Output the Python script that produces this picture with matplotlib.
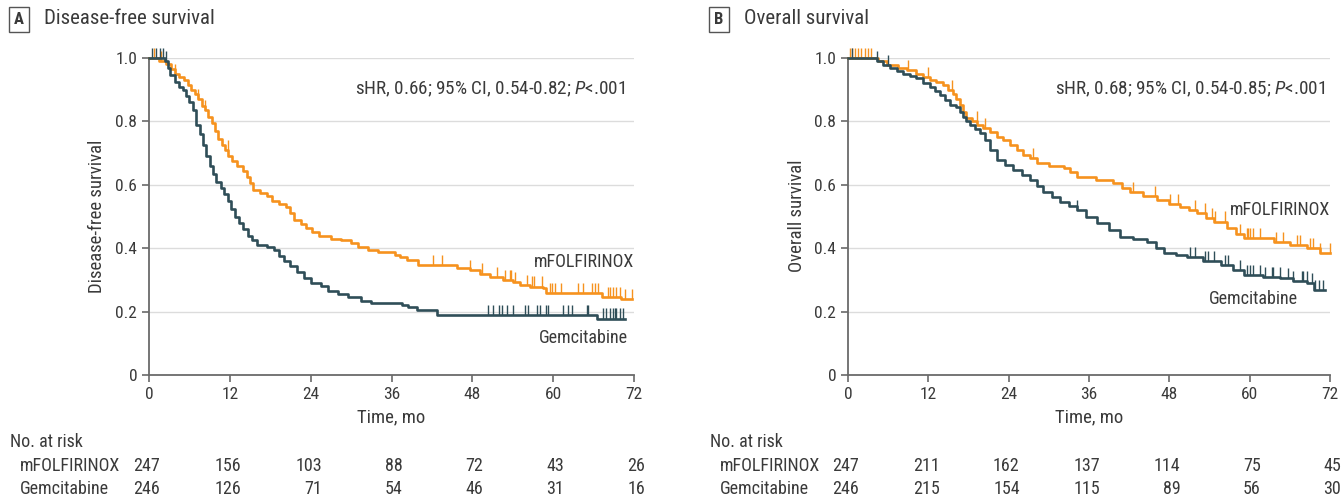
import numpy as np
import matplotlib
matplotlib.use("Agg")
import matplotlib.pyplot as plt
from matplotlib.transforms import blended_transform_factory

plt.rcParams['font.family'] = ['Roboto Condensed', 'DejaVu Sans']
plt.rcParams['mathtext.fontset'] = 'custom'
plt.rcParams['mathtext.it'] = 'Roboto Condensed:italic'
plt.rcParams['mathtext.rm'] = 'Roboto Condensed'

ORANGE = "#F6921E"
TEAL = "#2F4E58"
TXT = "#3a3a3a"

# ---- A: disease-free survival (step knots)
dfs_m_t = [0, 1.5, 2.5, 3.2, 3.8, 4.5, 5.2, 5.8, 6.3, 6.8, 7.3, 7.8, 8.3, 8.8, 9.3, 9.8, 10.3,
           10.8, 11.3, 11.8, 12.3, 13.0, 14.0, 14.5, 15.0, 15.4, 16.5, 17.5, 18.3, 19.3, 20.3,
           21.0, 21.5, 22.5, 23.3, 24.2, 25.3, 27.0, 28.5, 30.0, 31.0, 32.5, 34.0, 36.5, 37.3,
           38.3, 40.0, 45.7, 47.7, 49.1, 50.6, 52.5, 54.0, 55.1, 56.6, 58.5, 59.0, 67.2, 70.0, 71.7]
dfs_m_s = [1.0, 0.99, 0.98, 0.965, 0.95, 0.94, 0.93, 0.915, 0.9, 0.885, 0.87, 0.85, 0.835, 0.815,
           0.795, 0.77, 0.745, 0.725, 0.71, 0.69, 0.675, 0.66, 0.645, 0.625, 0.605, 0.585, 0.575,
           0.565, 0.55, 0.54, 0.53, 0.51, 0.49, 0.475, 0.465, 0.45, 0.44, 0.43, 0.425, 0.415,
           0.405, 0.395, 0.389, 0.38, 0.373, 0.363, 0.347, 0.336, 0.331, 0.32, 0.31, 0.30, 0.294,
           0.284, 0.279, 0.274, 0.258, 0.247, 0.24, 0.24]
dfs_m_cens = [0.7, 1.8, 3.9, 7.3, 8.3, 11.7, 42.2, 43.5, 47.7, 49.4, 51.6, 52.9, 53.6, 53.8, 54.3,
              56.1, 56.8, 57.2, 58.4, 59.5, 59.8, 60.3, 61.2, 63.7, 64.4, 65.7, 66.2, 66.6, 68.1,
              68.4, 68.9, 69.4, 69.9, 70.7, 71.7]

dfs_g_t = [0, 2.4, 2.8, 3.1, 3.8, 4.5, 5.0, 5.5, 6.0, 6.5, 7.0, 7.5, 8.0, 8.5, 9.0, 9.5, 10.0,
           10.7, 11.2, 11.7, 12.2, 12.7, 13.3, 14.0, 14.7, 15.3, 16.0, 17.5, 18.5, 19.3, 20.0,
           21.0, 22.0, 23.0, 24.0, 25.5, 26.5, 28.0, 29.5, 31.5, 33.0, 37.5, 38.5, 39.8, 42.8,
           66.5, 70.7]
dfs_g_s = [1.0, 0.99, 0.97, 0.945, 0.925, 0.91, 0.9, 0.88, 0.86, 0.835, 0.79, 0.76, 0.725, 0.69,
           0.66, 0.635, 0.61, 0.59, 0.57, 0.55, 0.525, 0.5, 0.48, 0.46, 0.44, 0.425, 0.41, 0.405,
           0.395, 0.375, 0.36, 0.345, 0.325, 0.305, 0.29, 0.28, 0.265, 0.255, 0.245, 0.235,
           0.227, 0.22, 0.215, 0.205, 0.19, 0.178, 0.178]
dfs_g_cens = [0.4, 1.1, 1.6, 2.1, 2.5, 50.4, 51.1, 51.9, 52.4, 53.1, 54.1, 55.8, 56.3, 57.6, 58.0,
              59.0, 59.3, 61.5, 62.2, 62.8, 65.0, 65.2, 67.4, 67.9, 68.4, 68.9, 69.2, 69.4, 69.9,
              70.4]

# ---- B: overall survival
os_m_t = [0, 4.5, 5.8, 7.5, 8.8, 10.2, 11.2, 12.2, 13.2, 14.2, 15.0, 15.7, 16.2, 16.7, 17.2, 17.7,
          18.5, 19.3, 20.2, 21.2, 22.2, 23.2, 24.2, 25.2, 26.2, 27.2, 28.2, 30.0, 32.2, 33.2,
          34.2, 37.0, 39.6, 41.0, 42.1, 44.0, 46.1, 48.0, 49.6, 51.0, 52.1, 53.5, 54.6, 56.6,
          58.0, 59.1, 63.6, 66.0, 68.5, 70.5, 72.0]
os_m_s = [1.0, 0.99, 0.978, 0.97, 0.962, 0.95, 0.94, 0.93, 0.925, 0.915, 0.9, 0.885, 0.87, 0.852,
          0.83, 0.81, 0.8, 0.79, 0.78, 0.765, 0.752, 0.741, 0.725, 0.71, 0.695, 0.684, 0.668,
          0.66, 0.652, 0.64, 0.626, 0.615, 0.605, 0.59, 0.578, 0.565, 0.552, 0.54, 0.531, 0.52,
          0.51, 0.495, 0.484, 0.463, 0.445, 0.431, 0.42, 0.41, 0.40, 0.384, 0.384]
os_m_cens = [0.3, 0.6, 1.0, 1.5, 2.0, 2.5, 3.0, 3.5, 9.0, 12.0, 15.5, 19.2, 20.5, 27.7, 42.6,
             45.9, 48.1, 49.3, 51.8, 53.3, 54.3, 54.8, 56.3, 58.6, 59.6, 59.8, 60.1, 60.5, 61.5,
             64.0, 65.0, 67.0, 67.5, 69.0, 69.5, 70.5, 72.0]

os_g_t = [0, 4.3, 5.3, 6.3, 7.3, 8.2, 9.2, 10.2, 11.2, 12.2, 13.0, 13.7, 14.5, 15.2, 16.2, 16.7,
          17.2, 17.7, 18.2, 19.0, 19.7, 20.5, 21.2, 22.2, 23.5, 24.7, 26.0, 27.2, 28.2, 29.2,
          30.5, 31.7, 33.0, 34.2, 35.5, 37.2, 39.0, 40.7, 42.5, 44.7, 46.0, 47.2, 49.0, 50.7,
          53.0, 55.7, 57.5, 59.1, 62.0, 64.6, 66.5, 68.6, 69.6, 71.2]
os_g_s = [1.0, 0.99, 0.978, 0.967, 0.958, 0.95, 0.943, 0.936, 0.922, 0.91, 0.895, 0.883, 0.868,
          0.852, 0.846, 0.83, 0.815, 0.8, 0.789, 0.775, 0.762, 0.74, 0.71, 0.678, 0.662, 0.647,
          0.63, 0.615, 0.597, 0.578, 0.562, 0.547, 0.533, 0.52, 0.5, 0.478, 0.456, 0.436, 0.428,
          0.42, 0.4, 0.384, 0.378, 0.373, 0.36, 0.347, 0.33, 0.315, 0.31, 0.305, 0.297, 0.289,
          0.268, 0.268]
os_g_cens = [0.6, 4.3, 6.0, 34.2, 51.1, 51.8, 53.3, 53.8, 54.6, 56.3, 56.8, 58.6, 59.6, 60.1,
             60.5, 61.5, 62.3, 63.3, 63.5, 64.5, 65.8, 66.5, 67.8, 68.0, 68.5, 69.3, 69.8, 70.3,
             71.0]

risk_times = [0, 12, 24, 36, 48, 60, 72]
dfs_risk_m = [247, 156, 103, 88, 72, 43, 26]
dfs_risk_g = [246, 126, 71, 54, 46, 31, 16]
os_risk_m = [247, 211, 162, 137, 114, 75, 45]
os_risk_g = [246, 215, 154, 115, 89, 56, 30]


def step_at(t, s, x):
    t = np.asarray(t)
    s = np.asarray(s)
    idx = np.searchsorted(t, x, side="right") - 1
    return s[np.clip(idx, 0, len(s) - 1)]


def km(ax, t, s, cens, color):
    ax.plot(t, s, drawstyle="steps-post", color=color, lw=1.9, clip_on=False, zorder=3)
    cy = step_at(t, s, cens)
    ax.vlines(cens, cy, cy + 0.032, color=color, lw=1.0, clip_on=False, zorder=3)


fig = plt.figure(figsize=(13.44, 4.97), dpi=100)
axA = fig.add_axes([149 / 1344, 1 - 375 / 497, 485 / 1344, 317 / 497])
axB = fig.add_axes([848 / 1344, 1 - 375 / 497, 482 / 1344, 317 / 497])

panels = [
    (axA, "A", "Disease-free survival", dfs_m_t, dfs_m_s, dfs_m_cens, dfs_g_t, dfs_g_s, dfs_g_cens,
     "sHR, 0.66; 95% CI, 0.54-0.82; $P$<.001", 70.7, (72, 0.355), (71.1, 0.118),
     dfs_risk_m, dfs_risk_g, 10 / 1344, 97),
    (axB, "B", "Overall survival", os_m_t, os_m_s, os_m_cens, os_g_t, os_g_s, os_g_cens,
     "sHR, 0.68; 95% CI, 0.54-0.85; $P$<.001", 71.3, (72, 0.52), (67.2, 0.24),
     os_risk_m, os_risk_g, 710 / 1344, 797),
]

for (ax, letter, title, mt, ms, mc, gt, gs, gc, hr, hrx, mlab, glab,
     rm, rg, fx, ylx) in panels:
    ax.set_xlim(0, 72)
    ax.set_ylim(0, 1.0)
    ax.set_xticks(risk_times)
    ax.set_yticks([0, 0.2, 0.4, 0.6, 0.8, 1.0])
    ax.set_yticklabels(["0", "0.2", "0.4", "0.6", "0.8", "1.0"])
    for y in [0.2, 0.4, 0.6, 0.8, 1.0]:
        ax.axhline(y, color="#dcdcdc", lw=1.0, zorder=1)
    for sp in ["top", "right"]:
        ax.spines[sp].set_visible(False)
    for sp in ["left", "bottom"]:
        ax.spines[sp].set_color("#6a6a6a")
        ax.spines[sp].set_linewidth(1.3)
    ax.tick_params(colors="#6a6a6a", labelcolor=TXT, labelsize=12.5, length=5, width=1.2)
    ax.set_xlabel("Time, mo", fontsize=13.5, color=TXT, labelpad=5)

    km(ax, mt, ms, mc, ORANGE)
    km(ax, gt, gs, gc, TEAL)

    ax.text(hrx, 0.9, hr, fontsize=13.8, color=TXT, ha="right", va="center")
    ax.text(mlab[0], mlab[1], "mFOLFIRINOX", fontsize=13, color=TXT, ha="right", va="center")
    ax.text(glab[0], glab[1], "Gemcitabine", fontsize=13, color=TXT, ha="right", va="center")

    ylab = "Disease-free survival" if letter == "A" else "Overall survival"
    fig.text(ylx / 1344, 1 - 216 / 497, ylab, rotation=90, fontsize=13.5, color=TXT,
             ha="center", va="center")

    # panel label and title
    fig.text(fx + 9 / 1344, 1 - 19 / 497, letter, fontsize=12, color=TXT, ha="center",
             va="center", weight="bold",
             bbox=dict(boxstyle="square,pad=0.3", fc="white", ec="#555555", lw=1.0))
    fig.text(fx + 34 / 1344, 1 - 19 / 497, title, fontsize=15, color=TXT, ha="left",
             va="center")

    # number at risk table
    tr = blended_transform_factory(ax.transData, fig.transFigure)
    fig.text(fx, 1 - 442 / 497, "No. at risk", fontsize=13, color=TXT, ha="left", va="center")
    fig.text(fx + 10 / 1344, 1 - 466 / 497, "mFOLFIRINOX", fontsize=13, color=TXT,
             ha="left", va="center")
    fig.text(fx + 10 / 1344, 1 - 489 / 497, "Gemcitabine", fontsize=13, color=TXT,
             ha="left", va="center")
    for tt, a, b in zip(risk_times, rm, rg):
        ax.text(tt + 1.65, 1 - 466 / 497, str(a), transform=tr, fontsize=13, color=TXT,
                ha="right", va="center")
        ax.text(tt + 1.65, 1 - 489 / 497, str(b), transform=tr, fontsize=13, color=TXT,
                ha="right", va="center")

fig.savefig("out.png", dpi=100)
